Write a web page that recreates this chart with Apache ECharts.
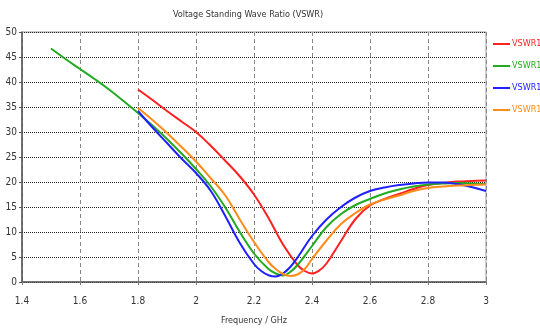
<!DOCTYPE html>
<html>
<head>
<meta charset="utf-8">
<script src="https://cdn.jsdelivr.net/npm/echarts@6/dist/echarts.min.js"></script>
<style>
  body { margin: 0; background: #fff; }
  #main { width: 540px; height: 330px; }
</style>
</head>
<body>
<div id="main"></div>
<script>
var seriesNames = ["VSWR1", "VSWR1_1", "VSWR1_2", "VSWR1_3"];
var seriesColors = ["#ff2020", "#22aa22", "#2020ff", "#ff8c1a"];

// frequency (GHz), VSWR
var red = [[1.8, 38.5], [1.85, 36.4], [1.9, 34.2], [1.95, 32.1], [2.0, 30], [2.05, 27.3], [2.1, 24.3],
  [2.15, 21.2], [2.2, 17.5], [2.25, 12.8], [2.3, 7.5], [2.35, 3.4], [2.375, 2.2], [2.4, 1.7],
  [2.425, 2.3], [2.45, 3.7], [2.5, 8.2], [2.55, 12.6], [2.6, 15.3], [2.65, 16.6], [2.7, 17.6],
  [2.75, 18.6], [2.8, 19.4], [2.85, 19.8], [2.9, 20.1], [2.95, 20.2], [3.0, 20.3]];
var green = [[1.5, 46.7], [1.55, 44.6], [1.6, 42.6], [1.65, 40.6], [1.7, 38.5], [1.75, 36.2],
  [1.8, 33.8], [1.85, 31.3], [1.9, 28.6], [1.95, 25.7], [2.0, 22.6], [2.05, 19.2], [2.1, 15],
  [2.15, 10.1], [2.2, 5.7], [2.25, 2.6], [2.275, 1.7], [2.3, 1.3], [2.325, 2], [2.35, 3.4],
  [2.4, 7.2], [2.45, 11], [2.5, 13.6], [2.55, 15.4], [2.6, 16.6], [2.65, 17.7], [2.7, 18.5],
  [2.75, 19.1], [2.8, 19.5], [2.85, 19.7], [2.9, 19.8], [2.95, 19.7], [3.0, 19.6]];
var blue = [[1.8, 34.2], [1.85, 30.9], [1.9, 27.8], [1.95, 24.7], [2.0, 21.8], [2.05, 18.3],
  [2.1, 13.3], [2.15, 7.9], [2.2, 3.6], [2.225, 2.2], [2.25, 1.35], [2.275, 1.1], [2.3, 1.7],
  [2.325, 3], [2.35, 4.9], [2.4, 9.2], [2.45, 12.5], [2.5, 15], [2.55, 16.9], [2.6, 18.2],
  [2.65, 18.9], [2.7, 19.4], [2.75, 19.7], [2.8, 19.9], [2.85, 19.9], [2.9, 19.6], [2.95, 19],
  [3.0, 18.2]];
var orange = [[1.8, 34.8], [1.85, 32.4], [1.9, 29.8], [1.95, 27], [2.0, 24.1], [2.05, 20.8],
  [2.1, 17.4], [2.15, 12.6], [2.2, 8], [2.25, 4], [2.275, 2.6], [2.3, 1.6], [2.325, 1.2],
  [2.35, 1.5], [2.375, 2.6], [2.4, 4.6], [2.45, 8.3], [2.5, 11.6], [2.55, 13.8], [2.6, 15.5],
  [2.65, 16.5], [2.7, 17.3], [2.75, 18.2], [2.8, 18.8], [2.85, 19.1], [2.9, 19.3], [2.95, 19.4],
  [3.0, 19.5]];
var allData = [red, green, blue, orange];

var font = "'Liberation Sans Narrow', 'DejaVu Sans Condensed', sans-serif";

var myChart = echarts.init(document.getElementById("main"));

var series = [];
for (var i = 0; i < allData.length; i++) {
  series.push({
    name: seriesNames[i],
    type: "line",
    data: allData[i],
    smooth: 0.4,
    showSymbol: false,
    lineStyle: { color: seriesColors[i], width: 2 },
    itemStyle: { color: seriesColors[i] },
  });
}

var legendData = seriesNames.map(function (n, i) {
  return { name: n, textStyle: { color: seriesColors[i] } };
});

var option = {
  animation: false,
  title: {
    text: "Voltage Standing Wave Ratio (VSWR)",
    left: 248,
    textAlign: "center",
    top: 10,
    padding: 0,
    textStyle: { fontFamily: font, fontSize: 9, fontWeight: "normal", color: "#333" },
  },
  legend: {
    orient: "vertical",
    left: 493,
    top: 38,
    padding: 0,
    icon: "rect",
    itemWidth: 17,
    itemHeight: 2,
    itemGap: 10,
    data: legendData,
    formatter: function (name) {
      return name.slice(0, 6);
    },
    textStyle: { fontFamily: font, fontSize: 9, lineHeight: 12, padding: [0, 0, 0, -3] },
  },
  grid: {
    left: 22,
    right: 54,
    top: 32,
    bottom: 48,
    show: true,
    borderColor: "#999",
    borderWidth: 1,
  },
  xAxis: {
    type: "value",
    min: 1.4,
    max: 3,
    interval: 0.2,
    name: "Frequency / GHz",
    nameLocation: "middle",
    nameGap: 34,
    nameTextStyle: { fontFamily: font, fontSize: 9, color: "#333" },
    axisLine: { lineStyle: { color: "#555", width: 1.5 } },
    axisTick: { show: true, length: 3, lineStyle: { color: "#777" } },
    axisLabel: {
      fontFamily: font,
      fontSize: 10,
      color: "#333",
      margin: 14,
      formatter: function (v) {
        return String(Math.round(v * 10) / 10);
      },
    },
    splitLine: { show: true, lineStyle: { color: "#888", type: [4, 3], width: 1 } },
  },
  yAxis: {
    type: "value",
    min: 0,
    max: 50,
    interval: 5,
    axisLine: { show: true, lineStyle: { color: "#555", width: 1.5 } },
    axisTick: { show: true, length: 3, lineStyle: { color: "#555" } },
    axisLabel: { fontFamily: font, fontSize: 10, color: "#333", margin: 5 },
    splitLine: { show: true, lineStyle: { color: "#222", type: [1, 1], width: 1 } },
  },
  series: series,
};
myChart.setOption(option);
</script>
</body>
</html>
